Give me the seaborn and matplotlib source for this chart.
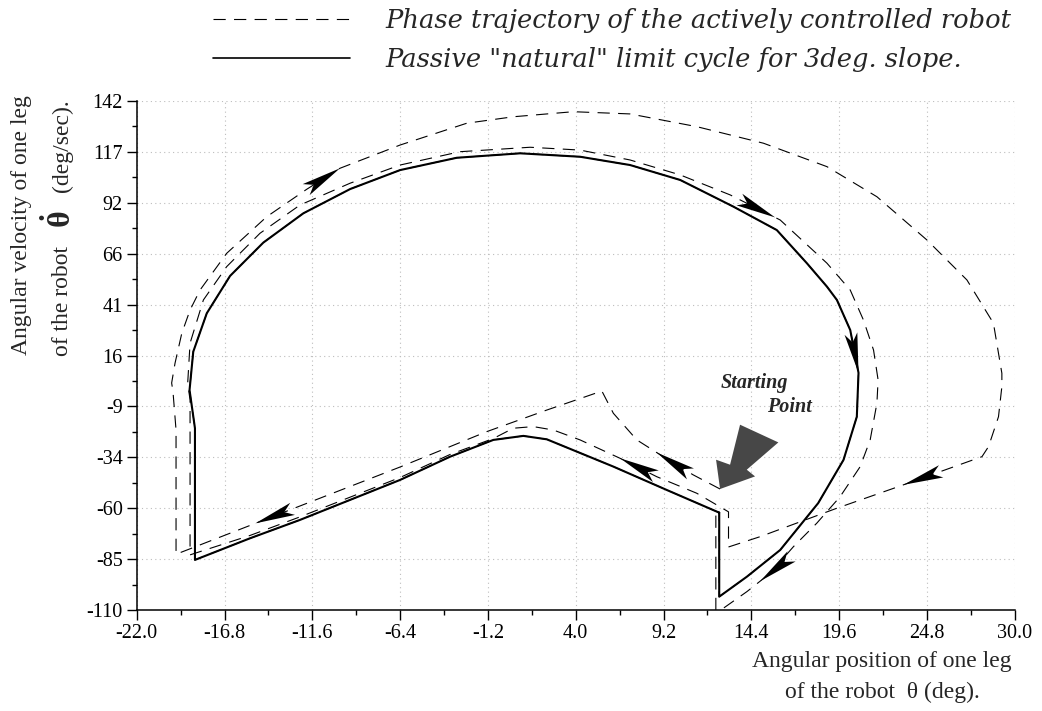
import numpy as np
import pandas as pd
import matplotlib
matplotlib.use("Agg")
import matplotlib.pyplot as plt
import matplotlib.transforms as mtransforms
from matplotlib.patches import Polygon
from matplotlib.lines import Line2D
from matplotlib.ticker import AutoMinorLocator
import seaborn as sns

# passive "natural" limit cycle (solid), listed in the direction of motion
passive_theta = [12.50, 9.40, 6.23, 2.29, 0.90, -0.88, -3.44, -6.40, -12.33, -15.29,
                 -18.55, -18.55, -18.87, -18.65, -17.85, -16.47, -14.50, -12.13, -9.36, -6.40,
                 -3.04, 0.71, 4.26, 7.22, 10.19, 13.34, 15.91, 17.69, 18.88, 19.47,
                 20.26, 20.75, 20.65, 19.86, 18.36, 16.11, 14.14, 12.50, 12.50]
passive_omega = [-61.8, -50.6, -39.0, -25.5, -23.8, -25.8, -34.1, -45.6, -65.4, -74.5,
                 -85.2, -20.0, -1.1, 17.9, 36.9, 55.4, 71.9, 86.4, 98.4, 107.8,
                 113.9, 116.1, 114.4, 110.3, 102.9, 89.7, 78.1, 61.7, 50.1, 43.5,
                 28.6, 7.4, -14.3, -35.7, -57.1, -80.3, -93.5, -103.4, -61.8]

# actively controlled robot (dashed): start -> first (big) loop -> second loop -> limit cycle
start_theta = [12.55, 10.96, 9.30, 7.62, 6.23, 5.55]
start_omega = [-50.1, -43.1, -34.7, -25.8, -12.6, -1.6]

outer_theta = [2.29, -1.27, -6.40, -12.33, -19.67, -19.67, -19.85, -19.93, -19.73, -19.33,
               -18.84, -18.25, -16.67, -14.30, -11.93, -9.96, -6.40, -2.45, 0.31, 3.86,
               7.22, 11.17, 15.12, 18.88, 21.84, 24.80, 27.17, 28.74, 29.24, 29.24,
               29.04, 28.45, 28.06, 23.22, 19.47, 14.92, 13.05, 13.05]
outer_omega = [-11.0, -21.7, -39.2, -58.5, -82.4, -20.9, -2.0, 2.4, 12.2, 27.0,
               38.5, 48.4, 66.6, 84.7, 98.3, 108.7, 120.2, 131.0, 134.2, 136.7,
               135.6, 129.3, 121.1, 109.5, 94.6, 73.2, 53.4, 32.0, 7.2, 0.6,
               -14.3, -29.1, -34.1, -48.6, -59.6, -73.7, -78.8, -61.4]

inner_theta = [11.17, 8.80, 6.63, 4.26, 2.68, 1.49, 0.31, -0.88, -3.44, -6.40,
               -12.33, -15.29, -18.84, -18.84, -18.98, -18.84, -18.05, -16.67, -14.70, -12.33,
               -9.36, -6.40, -2.85, 1.30, 4.26, 7.22, 10.19, 13.15, 16.11, 18.88,
               20.26, 21.04, 21.64, 21.91, 21.84, 21.44, 20.85, 19.66, 18.28, 16.90,
               15.52, 14.14, 12.75, 12.30, 12.30]
inner_omega = [-52.2, -44.0, -34.9, -25.8, -20.9, -19.2, -20.0, -25.1, -33.0, -44.4,
               -63.9, -73.1, -82.7, -6.0, 2.3, 22.1, 43.5, 60.0, 76.5, 90.5,
               101.3, 110.3, 116.9, 119.1, 117.7, 112.8, 105.4, 95.5, 83.1, 61.7,
               48.4, 33.6, 18.7, 3.9, -7.6, -25.8, -39.0, -53.9, -67.0, -78.6,
               -91.8, -100.9, -109.1, -110.0, -61.0]

x_ticks = [-22.0, -16.8, -11.6, -6.4, -1.2, 4.0, 9.2, 14.4, 19.6, 24.8, 30.0]
y_ticks = [-110, -84.8, -59.6, -34.4, -9.2, 16, 41.2, 66.4, 91.6, 116.8, 142]
y_tick_labels = ["-110", "-85", "-60", "-34", "-9", "16", "41", "66", "92", "117", "142"]

legend_labels = ["Phase trajectory of the actively controlled robot",
                 'Passive "natural" limit cycle for 3deg. slope.']

sns.set_theme(style="ticks")
plt.rcParams["font.family"] = ["Liberation Serif", "DejaVu Serif"]
plt.rcParams["mathtext.fontset"] = "custom"
plt.rcParams["mathtext.rm"] = "Liberation Serif"
plt.rcParams["mathtext.it"] = "Liberation Serif:italic"
plt.rcParams["mathtext.bf"] = "Liberation Serif:bold"

W, H = 1042, 711
fig = plt.figure(figsize=(W / 100, H / 100), dpi=100)
ax = fig.add_axes([136.7 / W, 1 - 610 / H, 878 / W, 509 / H])

passive = pd.DataFrame({"theta": passive_theta, "omega": passive_omega})
active = pd.DataFrame({
    "theta": start_theta + outer_theta + inner_theta + passive_theta,
    "omega": start_omega + outer_omega + inner_omega + passive_omega,
})

dash = (0, (11, 7.5))
sns.lineplot(data=passive, x="theta", y="omega", sort=False, estimator=None,
             color="black", lw=1.5, ax=ax)
sns.lineplot(data=active, x="theta", y="omega", sort=False, estimator=None,
             color="black", lw=0.8, linestyle=dash, ax=ax)

ax.set_xlim(-22, 30)
ax.set_ylim(-110, 142)
ax.set_xticks(x_ticks)
ax.set_xticklabels([f"{v:.1f}" for v in x_ticks])
ax.set_yticks(y_ticks)
ax.set_yticklabels(y_tick_labels)
ax.xaxis.set_minor_locator(AutoMinorLocator(2))
ax.yaxis.set_minor_locator(AutoMinorLocator(2))
ax.tick_params(which="major", direction="out", length=7, width=1, labelsize=14.5,
               color="black", labelcolor="black", pad=3)
ax.tick_params(which="minor", direction="out", length=3.5, width=1, color="black")
ax.set_xlabel("")
ax.set_ylabel("")
sns.despine(ax=ax)
for s in ["left", "bottom"]:
    ax.spines[s].set_color("black")
    ax.spines[s].set_linewidth(1.1)
ax.grid(True, which="major", color="#bdbdbd", linestyle=(0, (1, 3)), lw=0.8)
ax.set_axisbelow(True)


def arrowhead(xs, ys, i, t, length=40, half=6.5, notch=9):
    p0 = ax.transData.transform((xs[i], ys[i]))
    p1 = ax.transData.transform((xs[i + 1], ys[i + 1]))
    tip = p0 + t * (p1 - p0)
    ang = np.arctan2(p1[1] - p0[1], p1[0] - p0[0])
    verts = [(0, 0), (-length, half), (-length + notch, 0), (-length, -half)]
    tr = mtransforms.Affine2D().rotate(ang).translate(tip[0], tip[1])
    ax.add_patch(Polygon(verts, closed=True, transform=tr, facecolor="black",
                         edgecolor="none", zorder=5, clip_on=False))


arrowhead(outer_theta, outer_omega, 14, 1.0)
arrowhead(inner_theta, inner_omega, 27, 0.9)
arrowhead(passive_theta, passive_omega, 30, 1.0)
arrowhead(outer_theta, outer_omega, 32, 0.96)
arrowhead(inner_theta, inner_omega, 40, 0.43)
arrowhead(start_theta, start_omega, 2, 0.3)
arrowhead(inner_theta, inner_omega, 1, 1.0)
arrowhead(outer_theta, outer_omega, 3, 0.36)

# big grey arrow pointing at the starting point
tip = ax.transData.transform((start_theta[0], start_omega[0]))
grey = [(0, 0), (-4, 29.3), (10, 24.3), (20, 64.3), (58.3, 46.6), (26.7, 19.3), (35, 12.6)]
ax.add_patch(Polygon(grey, closed=True, facecolor="#474747", edgecolor="none", zorder=6,
                     transform=mtransforms.Affine2D().translate(tip[0], tip[1])))
ax.text(12.6, 2.4, "Starting", ha="left", va="center", fontsize=14.5,
        fontweight="bold", fontstyle="italic")
ax.text(15.35, -9.7, "Point", ha="left", va="center", fontsize=14.5,
        fontweight="bold", fontstyle="italic")

# axis labels
lab = 17
fig.text(22 / W, 1 - 225 / H, "Angular velocity of one leg", rotation=90,
         ha="center", va="center", fontsize=lab)
fig.text(62 / W, 1 - 356 / H, "of the robot", rotation=90,
         ha="center", va="bottom", fontsize=lab)
fig.text(61 / W, 1 - 219 / H, r"$\mathbf{\dot{\theta}}$", rotation=90,
         ha="center", va="center", fontsize=23)
fig.text(62 / W, 1 - 99 / H, "(deg/sec).", rotation=90,
         ha="center", va="top", fontsize=lab)
fig.text(882 / W, 1 - 662 / H, "Angular position of one leg", ha="center", va="center",
         fontsize=lab)
fig.text(882 / W, 1 - 692 / H, "of the robot  \u03b8 (deg).", ha="center", va="center",
         fontsize=lab)

# legend above the plot
handles = [Line2D([], [], color="black", lw=0.8, linestyle=dash),
           Line2D([], [], color="black", lw=1.2)]
fig.legend(handles, legend_labels, loc="upper left", bbox_to_anchor=(213 / W, 1 - 8 / H),
           frameon=False, borderpad=0, borderaxespad=0, handlelength=5.33,
           handletextpad=1.36, labelspacing=0.54,
           prop={"family": "DejaVu Serif", "style": "italic", "size": 18.5})

fig.savefig("out.png", dpi=100)
